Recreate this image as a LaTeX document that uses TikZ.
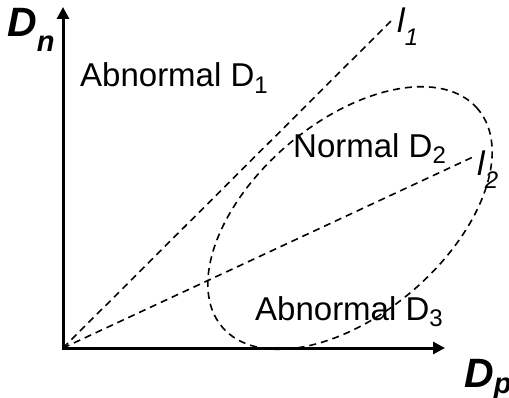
\documentclass[tikz,border=0pt]{standalone}
\usepackage{fontspec}
\setmainfont{Liberation Sans}
\usetikzlibrary{arrows.meta}
\newcommand{\SubIdx}[2][0.2em]{\raisebox{-#1}{\fontsize{24}{24}\selectfont #2}}
\newcommand{\AxisSub}[2][0.2em]{\raisebox{-#1}{\fontsize{29}{29}\selectfont #2}}

\begin{document}
\begin{tikzpicture}[x=1pt, y=1pt,
  every node/.style={inner sep=0pt, anchor=base west},   % labels sit on their baseline
  region/.style={font=\fontsize{33}{40}\selectfont},
  lineid/.style={font=\fontsize{34}{40}\selectfont\itshape},
  axislabel/.style={font=\fontsize{41}{48}\selectfont\bfseries\itshape},
  axis/.style={line width=3pt, {Triangle[length=12pt,width=12pt]}-{Triangle[length=12pt,width=12pt]}},
  guide/.style={line width=1.6pt, dash pattern=on 7pt off 5pt}
]
\useasboundingbox (0,0) rectangle (509,397);

% ---------- Geometry ----------
\coordinate (O)    at (63,49);
\coordinate (Ytip) at (63,390);
\coordinate (Xtip) at (445,49);
\coordinate (L1)   at (392,377);
\coordinate (L2)   at (473,240);
\coordinate (C)    at (350,179);

% ---------- Axes ----------
\draw[axis] (Ytip) -- (O) -- (Xtip);
\node[axislabel] (Dn) at (7,360) {D\AxisSub[0.36em]{n}};
\node[axislabel] (Dp) at (464,10) {D\AxisSub[0.15em]{p}};

% ---------- Boundary lines and normal region ----------
\draw[guide] (O) -- (L1);
\draw[guide] (O) -- (L2);
\draw[guide, rotate around={40.5:(C)}] (C) ellipse [x radius=168pt, y radius=96pt];

\node[lineid] (l1) at (397,364) {l\SubIdx[0.36em]{1}};
\node[lineid] (l2) at (477,221) {l\SubIdx[0.36em]{2}};

% ---------- Region labels ----------
\node[region] (R1) at (80,310)  {Abnormal D\SubIdx{1}};
\node[region] (R2) at (293,240) {Normal D\SubIdx{2}};
\node[region] (R3) at (255,77)  {Abnormal D\SubIdx{3}};

\end{tikzpicture}
\end{document}
